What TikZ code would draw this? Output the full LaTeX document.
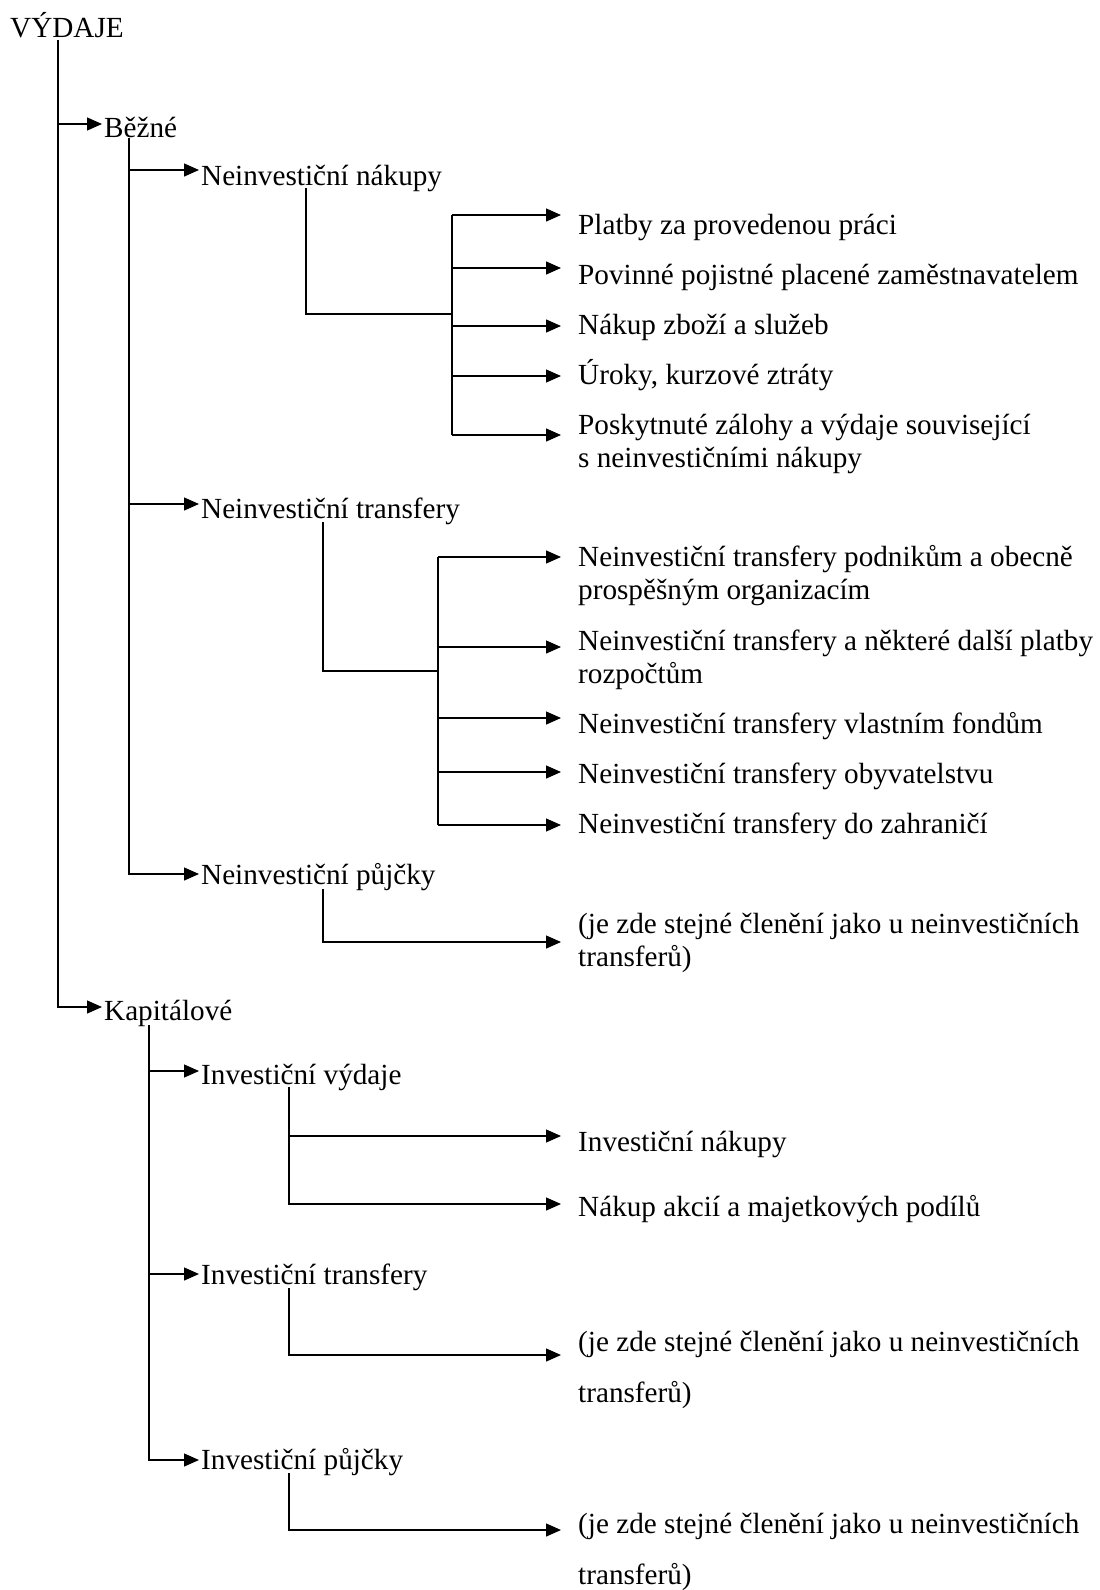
\documentclass[tikz,border=0pt]{standalone}
\usepackage{fontspec}
\setmainfont{Liberation Serif}
\usetikzlibrary{arrows.meta}
\tikzset{
  lbl/.style={anchor=base west, inner sep=0pt, align=left,
    font=\fontsize{29.2}{33}\selectfont},
  lblwide/.style={lbl, font=\fontsize{29.2}{51}\selectfont},
  line/.style={line width=1.3pt},
  arr/.style={line, -{Triangle[length=15pt,width=13pt]}}
}
\begin{document}
\begin{tikzpicture}[x=1pt,y=-1pt]
  \useasboundingbox (0,0) rectangle (1100,1590);
  % levels
  \node[lbl] (vydaje) at (10,37) {VÝDAJE};
  \node[lbl] (bezne) at (104,137) {Běžné};
  \node[lbl] (kapital) at (104,1020) {Kapitálové};
  \node[lbl] (nnakupy) at (201,185) {Neinvestiční nákupy};
  \node[lbl] (ntransf) at (201,518) {Neinvestiční transfery};
  \node[lbl] (npujcky) at (201,884) {Neinvestiční půjčky};
  \node[lbl] (ivydaje) at (201,1084) {Investiční výdaje};
  \node[lbl] (itransf) at (201,1284) {Investiční transfery};
  \node[lbl] (ipujcky) at (201,1469) {Investiční půjčky};
  % leaves (base = last line)
  \node[lbl] (nn1) at (578,234) {Platby za provedenou práci};
  \node[lbl] (nn2) at (578,284) {Povinné pojistné placené zaměstnavatelem};
  \node[lbl] (nn3) at (578,334) {Nákup zboží a služeb};
  \node[lbl] (nn4) at (578,384) {Úroky, kurzové ztráty};
  \node[lbl] (nn5) at (578,467) {Poskytnuté zálohy a výdaje související\\s neinvestičními nákupy};
  \node[lbl] (nt1) at (578,599) {Neinvestiční transfery podnikům a obecně\\prospěšným organizacím};
  \node[lbl] (nt2) at (578,683) {Neinvestiční transfery a některé další platby\\rozpočtům};
  \node[lbl] (nt3) at (578,733) {Neinvestiční transfery vlastním fondům};
  \node[lbl] (nt4) at (578,783) {Neinvestiční transfery obyvatelstvu};
  \node[lbl] (nt5) at (578,833) {Neinvestiční transfery do zahraničí};
  \node[lbl] (np1) at (578,966) {(je zde stejné členění jako u neinvestičních\\transferů)};
  \node[lbl] (iv1) at (578,1151) {Investiční nákupy};
  \node[lbl] (iv2) at (578,1216) {Nákup akcií a majetkových podílů};
  \node[lblwide] (it1) at (578,1402) {(je zde stejné členění jako u neinvestičních\\transferů)};
  \node[lblwide] (ip1) at (578,1584) {(je zde stejné členění jako u neinvestičních\\transferů)};
  % spines and joints
  \coordinate (s-vyd) at (58,40);
  \coordinate (s-bez) at (129,138);
  \coordinate (s-kap) at (149,1025);
  \coordinate (s-nn) at (306,188);
  \coordinate (j-nn) at (452,314);
  \coordinate (s-nt) at (323,522);
  \coordinate (j-nt) at (438,671);
  \coordinate (s-np) at (323,889);
  \coordinate (s-iv) at (289,1087);
  \coordinate (s-it) at (289,1288);
  \coordinate (s-ip) at (289,1473);
  % arrow tips
  \coordinate (bezne-in) at (102,124);
  \coordinate (kapital-in) at (102,1007);
  \coordinate (nnakupy-in) at (199,170);
  \coordinate (ntransf-in) at (199,504);
  \coordinate (npujcky-in) at (199,874);
  \coordinate (ivydaje-in) at (199,1071);
  \coordinate (itransf-in) at (199,1274);
  \coordinate (ipujcky-in) at (199,1460);
  \coordinate (nn1-in) at (561,215);
  \coordinate (nn2-in) at (561,268);
  \coordinate (nn3-in) at (561,326);
  \coordinate (nn4-in) at (561,376);
  \coordinate (nn5-in) at (561,435);
  \coordinate (nt1-in) at (561,557);
  \coordinate (nt2-in) at (561,647);
  \coordinate (nt3-in) at (561,718);
  \coordinate (nt4-in) at (561,772);
  \coordinate (nt5-in) at (561,825);
  \coordinate (np1-in) at (561,942);
  \coordinate (iv1-in) at (561,1136);
  \coordinate (iv2-in) at (561,1204);
  \coordinate (it1-in) at (561,1355);
  \coordinate (ip1-in) at (561,1530);
  \begin{scope}[line]
    \draw[arr] (s-vyd |- bezne-in) -- (bezne-in);
    \draw[arr] (s-vyd) |- (kapital-in);
    \draw[arr] (s-bez |- nnakupy-in) -- (nnakupy-in);
    \draw[arr] (s-bez |- ntransf-in) -- (ntransf-in);
    \draw[arr] (s-bez) |- (npujcky-in);
    \draw[arr] (s-kap |- ivydaje-in) -- (ivydaje-in);
    \draw[arr] (s-kap |- itransf-in) -- (itransf-in);
    \draw[arr] (s-kap) |- (ipujcky-in);
    \draw (s-nn) |- (j-nn);
    \draw (j-nn |- nn1-in) -- (j-nn |- nn5-in);
    \foreach \i in {1,...,5}
      \draw[arr] (j-nn |- nn\i-in) -- (nn\i-in);
    \draw (s-nt) |- (j-nt);
    \draw (j-nt |- nt1-in) -- (j-nt |- nt5-in);
    \foreach \i in {1,...,5}
      \draw[arr] (j-nt |- nt\i-in) -- (nt\i-in);
    \draw[arr] (s-np) |- (np1-in);
    \draw[arr] (s-iv) |- (iv2-in);
    \draw[arr] (s-iv |- iv1-in) -- (iv1-in);
    \draw[arr] (s-it) |- (it1-in);
    \draw[arr] (s-ip) |- (ip1-in);
  \end{scope}
\end{tikzpicture}
\end{document}
